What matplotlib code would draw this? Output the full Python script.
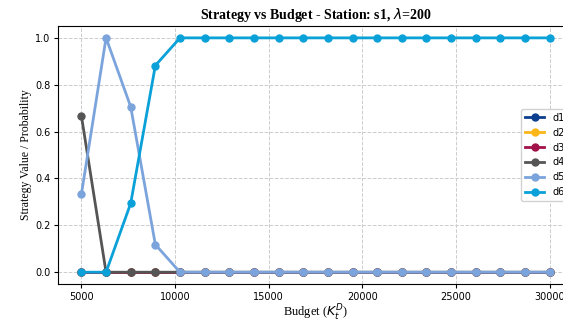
import numpy as np
import matplotlib
matplotlib.use("Agg")
import matplotlib.pyplot as plt

# budget sweep for station s1
budgets = np.linspace(5000, 30000, 20)

zeros = [0.0] * 20
d1 = zeros
d2 = zeros
d3 = zeros
d4 = [0.667, 0.0, 0.0, 0.0] + [0.0] * 16
d5 = [0.333, 1.0, 0.706, 0.118] + [0.0] * 16
d6 = [0.0, 0.0, 0.294, 0.882] + [1.0] * 16

series = {"d1": d1, "d2": d2, "d3": d3, "d4": d4, "d5": d5, "d6": d6}
colors = {"d1": "#0d3f8f", "d2": "#fbb618", "d3": "#a2134a",
          "d4": "#555555", "d5": "#7ca4dc", "d6": "#0aa1d9"}

fig = plt.figure(figsize=(5.63, 3.23), dpi=100)
ax = fig.add_axes([0.103, 0.121, 0.915, 0.798])

for name, vals in series.items():
    ax.plot(budgets, vals, marker="o", markersize=5, linewidth=2,
            color=colors[name], label=name)

ax.grid(True, linestyle="--", color="#cccccc", linewidth=0.7)
ax.set_title(r"Strategy vs Budget - Station: s1, $\lambda$=200",
             fontfamily="Liberation Serif", fontweight="bold", fontsize=10, pad=5)
ax.set_xlabel(r"Budget ($K_t^D$)", fontfamily="Liberation Serif", fontsize=9, labelpad=1)
ax.set_ylabel("Strategy Value / Probability", fontfamily="Liberation Serif",
              fontsize=8.5, labelpad=2)
ax.tick_params(labelsize=7, length=3, pad=2.5)
ax.set_xticks([5000, 10000, 15000, 20000, 25000, 30000])
ax.legend(loc="center right", fontsize=7, framealpha=0.9)

fig.savefig("out.png", dpi=100)
